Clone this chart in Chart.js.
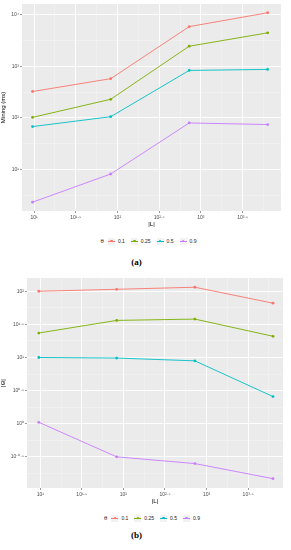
<!DOCTYPE html>
<html><head><meta charset="utf-8">
<script src="https://cdn.jsdelivr.net/npm/chart.js@4"></script>
<style>
html,body{margin:0;padding:0;background:#fff;width:291px;height:550px;overflow:hidden;font-family:"Liberation Sans",Arial,sans-serif;}
canvas{position:absolute;left:0;}
#ca{top:0;}
#cb{top:270px;}
.legend{position:absolute;display:flex;align-items:center;justify-content:center;font-size:5px;color:#1a1a1a;height:8px;}
.legend .ttl{font-size:6px;margin-right:4px;}
.legend .key{position:relative;width:7px;height:7px;background:#F2F2F2;margin-right:3px;}
.legend .key .ln{position:absolute;left:0;top:3px;width:7px;height:0.9px;}
.legend .key .pt{position:absolute;left:2.2px;top:2.2px;width:2.6px;height:2.6px;border-radius:50%;}
.legend .lab{margin-right:6px;}
.cap{position:absolute;width:291px;text-align:center;font-family:"Liberation Serif","Times New Roman",serif;font-weight:bold;font-size:9px;color:#000;}
</style>
</head><body>
<canvas id="ca" width="291" height="232"></canvas>
<div class="legend" id="la" style="left:22px;width:259px;top:237px;"></div>
<div class="cap" style="top:257px;left:-9px;">(a)</div>
<canvas id="cb" width="291" height="240"></canvas>
<div class="legend" id="lb" style="left:27px;width:256px;top:514px;"></div>
<div class="cap" style="top:530px;left:-9px;">(b)</div>
<script>
// ---- data ----
const sizesL = [9.6, 83, 724, 6310];            // |L|
const thetaLabels = ['0.1', '0.25', '0.5', '0.9'];
const miningMs_01  = [324, 575, 5890, 10960];
const miningMs_025 = [102, 229, 2455, 4467];
const miningMs_05  = [67.6, 105, 832, 871];
const miningMs_09  = [2.3, 8.1, 79.4, 74];
const patterns_01  = [100, 107, 115, 66];
const patterns_025 = [23.4, 36.3, 38, 20.9];
const patterns_05  = [10, 9.8, 8.9, 2.57];
const patterns_09  = [1.05, 0.316, 0.25, 0.148];
const xTickExps   = [1, 1.5, 2, 2.5, 3, 3.5];
const xTickLabels = ['10¹', '10¹·⁵', '10²', '10²·⁵', '10³', '10³·⁵'];
const yTickExpsA   = [1, 2, 3, 4];
const yTickLabelsA = ['10¹', '10²', '10³', '10⁴'];
const yTickExpsB   = [-0.5, 0, 0.5, 1, 1.5, 2];
const yTickLabelsB = ['10⁻⁰·⁵', '10⁰', '10⁰·⁵', '10¹', '10¹·⁵', '10²'];
const xTitle = '|L|';
const yTitleA = 'Mining (ms)';
const yTitleB = '|Θ|';
const legendTitle = 'θ';

// ---- styles ----
const colors = ['#F8766D', '#7CAE00', '#00BFC4', '#C77CFF'];
const FAM = '"Liberation Sans", Arial, sans-serif';

function makeTicks(exps, labels, min, max) {
  const step = (exps[1] - exps[0]) / 2;
  const lo = Math.log10(min), hi = Math.log10(max);
  const out = [];
  for (let e = exps[0] - step * 4; e <= hi + 1e-9; e += step) {
    if (e < lo - 1e-9) continue;
    const k = exps.findIndex(x => Math.abs(x - e) < 1e-6);
    out.push({ value: Math.pow(10, e), lbl: k >= 0 ? labels[k] : '' });
  }
  return out;
}

function logAxis(exps, labels, min, max, size, isX, title) {
  return {
    type: 'logarithmic', min, max, position: isX ? 'bottom' : 'left',
    afterBuildTicks: s => { s.ticks = makeTicks(exps, labels, min, max); },
    afterFit: s => { if (isX) s.height = size; else s.width = size; },
    ticks: {
      autoSkip: false, maxRotation: 0, minRotation: 0, padding: isX ? 2 : 1,
      font: { size: 5, family: FAM }, color: '#4D4D4D',
      callback: (v, i, t) => (t[i] && t[i].lbl) || ''
    },
    grid: {
      color: c => (c.tick && c.tick.lbl) ? '#FFFFFF' : 'rgba(255,255,255,0.6)',
      lineWidth: c => (c.tick && c.tick.lbl) ? 0.9 : 0.45,
      tickLength: 2,
      tickColor: c => (c.tick && c.tick.lbl) ? '#333333' : 'rgba(0,0,0,0)',
      tickWidth: 0.5
    },
    border: { display: false },
    title: { display: true, text: title, color: '#000', font: { size: 6, family: FAM }, padding: { top: 0, bottom: isX ? 1 : 2 } }
  };
}

const panelBg = {
  id: 'panelBg',
  beforeDraw(chart) {
    const a = chart.chartArea, ctx = chart.ctx;
    ctx.save(); ctx.fillStyle = '#EBEBEB';
    ctx.fillRect(a.left, a.top, a.right - a.left, a.bottom - a.top);
    ctx.restore();
  }
};

function makeChart(id, series, xr, yr, yExps, yLabels, yWidth, yTitle, pad) {
  const datasets = series.map((vals, i) => ({
    label: thetaLabels[i],
    data: vals.map((v, j) => ({ x: sizesL[j], y: v })),
    borderColor: colors[i], backgroundColor: colors[i],
    pointBackgroundColor: colors[i], pointBorderWidth: 0,
    borderWidth: 0.9, pointRadius: 1.4, tension: 0
  }));
  return new Chart(document.getElementById(id), {
    type: 'line',
    data: { datasets },
    options: {
      responsive: false, animation: false, devicePixelRatio: 1,
      layout: { padding: pad },
      plugins: { legend: { display: false }, tooltip: { enabled: false } },
      scales: {
        x: logAxis(xTickExps, xTickLabels, xr[0], xr[1], 18, true, xTitle),
        y: logAxis(yExps, yLabels, yr[0], yr[1], yWidth, false, yTitle)
      }
    },
    plugins: [panelBg]
  });
}

makeChart('ca', [miningMs_01, miningMs_025, miningMs_05, miningMs_09],
  [7.18, 9120], [1.55, 16218], yTickExpsA, yTickLabelsA, 22, yTitleA,
  { top: 3, right: 10, bottom: 3, left: 0 });
makeChart('cb', [patterns_01, patterns_025, patterns_05, patterns_09],
  [6.92, 8318], [0.107, 158.5], yTickExpsB, yTickLabelsB, 27, yTitleB,
  { top: 8, right: 8, bottom: 4, left: 0 });

function buildLegend(id) {
  const el = document.getElementById(id);
  let h = '<span class="ttl">' + legendTitle + '</span>';
  thetaLabels.forEach((t, i) => {
    h += '<span class="key"><span class="ln" style="background:' + colors[i] + '"></span><span class="pt" style="background:' + colors[i] + '"></span></span><span class="lab">' + t + '</span>';
  });
  el.innerHTML = h;
}
buildLegend('la'); buildLegend('lb');
</script>
</body></html>
